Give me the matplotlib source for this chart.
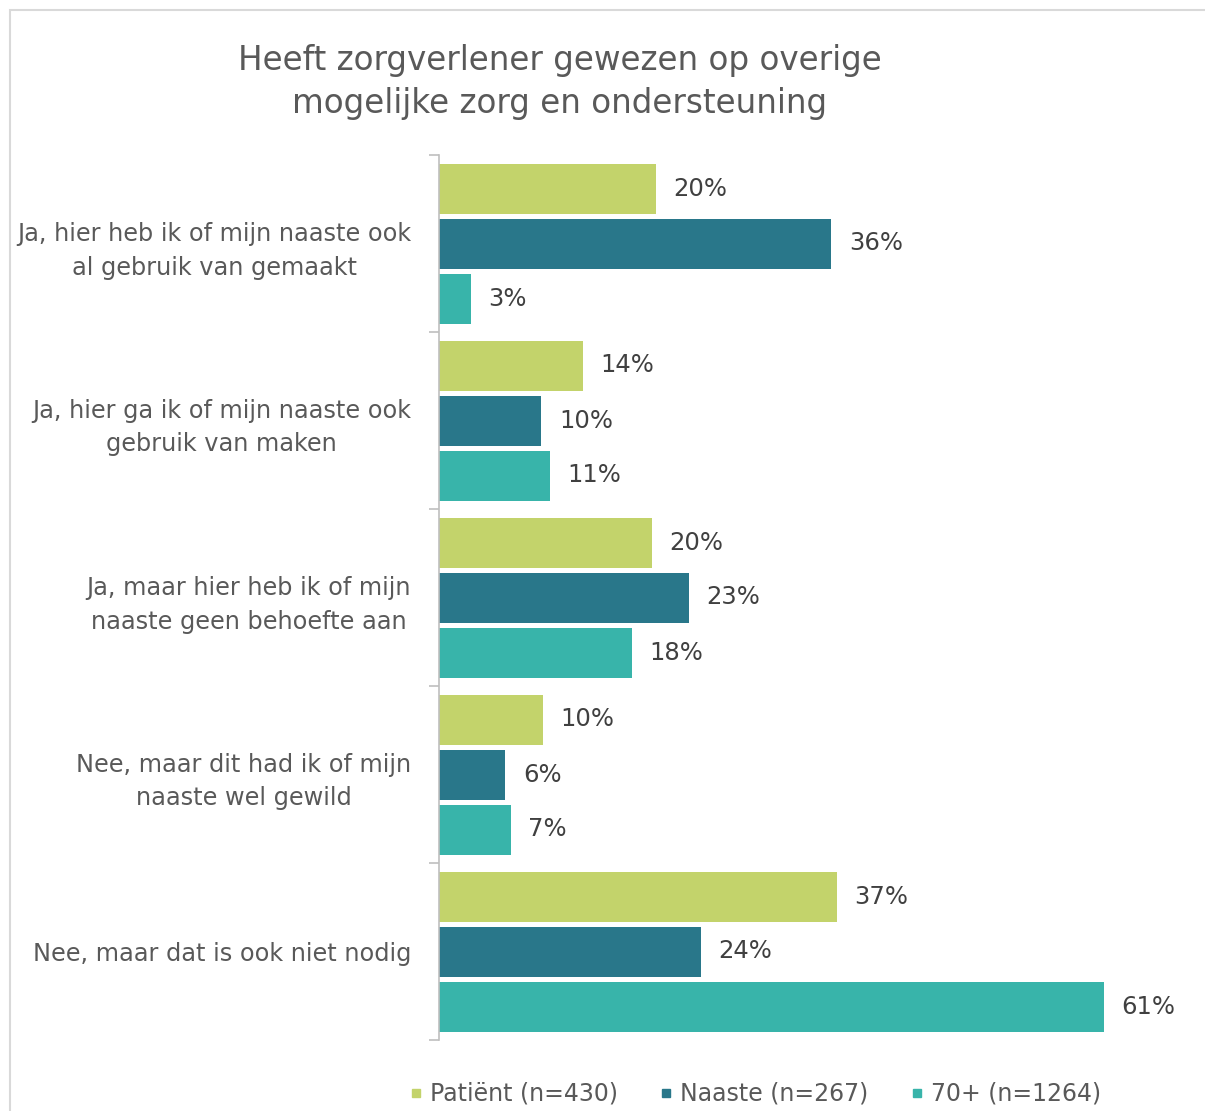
import matplotlib
matplotlib.use("Agg")
import matplotlib.pyplot as plt
from matplotlib.patches import Rectangle
from matplotlib.lines import Line2D
import numpy as np

categories = [
    "Ja, hier heb ik of mijn naaste ook\nal gebruik van gemaakt",
    "Ja, hier ga ik of mijn naaste ook\ngebruik van maken",
    "Ja, maar hier heb ik of mijn\nnaaste geen behoefte aan",
    "Nee, maar dit had ik of mijn\nnaaste wel gewild",
    "Nee, maar dat is ook niet nodig",
]
series_names = ["Patiënt (n=430)", "Naaste (n=267)", "70+ (n=1264)"]
# bar lengths (percent)
patient = [19.9, 13.2, 19.5, 9.5, 36.5]
naaste = [36.0, 9.4, 22.9, 6.1, 24.0]
seventy = [2.9, 10.2, 17.7, 6.6, 61.0]
# data labels as printed in the picture
patient_lbl = ["20%", "14%", "20%", "10%", "37%"]
naaste_lbl = ["36%", "10%", "23%", "6%", "24%"]
seventy_lbl = ["3%", "11%", "18%", "7%", "61%"]
colors = ["#C3D36B", "#29778A", "#38B4AA"]

W, H = 1205, 1111
fig = plt.figure(figsize=(W / 100, H / 100), dpi=100)
plt.rcParams["font.family"] = ["DejaVu Sans"]

# light frame around chart area
fig.patches.append(Rectangle((10 / W, -0.1), 1.2, 1 - 10 / H + 0.1, transform=fig.transFigure,
                             fill=False, edgecolor="#D9D9D9", linewidth=1.5))

ax_left, ax_top, ax_bottom = 439, 155, 1040
px_per_pct = 10.9
xmax = 68
ax = fig.add_axes([ax_left / W, (H - ax_bottom) / H, xmax * px_per_pct / W, (ax_bottom - ax_top) / H])

y = np.arange(len(categories))
offset = 55 / 177
bh = 50 / 177
for k, (vals, lbls, col) in enumerate(zip([patient, naaste, seventy],
                                          [patient_lbl, naaste_lbl, seventy_lbl], colors)):
    pos = y + (k - 1) * offset
    ax.barh(pos, vals, height=bh, color=col)
    for p, v, t in zip(pos, vals, lbls):
        ax.annotate(t, (v, p), xytext=(12.5, 0), textcoords="offset points",
                    va="center", ha="left", fontsize=17.5, color="#404040")

ax.set_ylim(len(categories) - 0.5, -0.5)
ax.set_xlim(0, xmax)
ax.set_xticks([])
ax.set_yticks(y)
ax.set_yticklabels(categories, fontsize=17.3, color="#595959", multialignment="center",
                   linespacing=1.5)
ax.tick_params(axis="y", which="major", length=0, pad=20)
ax.set_yticks(np.arange(-0.5, len(categories), 1), minor=True)
ax.tick_params(axis="y", which="minor", length=7.5, color="#BFBFBF", width=1.2)
for s in ["top", "right", "bottom"]:
    ax.spines[s].set_visible(False)
ax.spines["left"].set_color("#BFBFBF")
ax.spines["left"].set_linewidth(1.2)

fig.text(560 / W, 1 - 82 / H, "Heeft zorgverlener gewezen op overige\nmogelijke zorg en ondersteuning",
         ha="center", va="center", fontsize=23.5, color="#595959", linespacing=1.42)

handles = [Line2D([], [], marker="s", linestyle="none", markersize=6, color=c) for c in colors]
fig.legend(handles, series_names, loc="center", bbox_to_anchor=(755 / W, 17 / H), ncol=3,
           frameon=False, fontsize=17, labelcolor="#595959", handletextpad=0.29,
           columnspacing=1.74, handlelength=0.6)

fig.savefig("out.png", dpi=100)
